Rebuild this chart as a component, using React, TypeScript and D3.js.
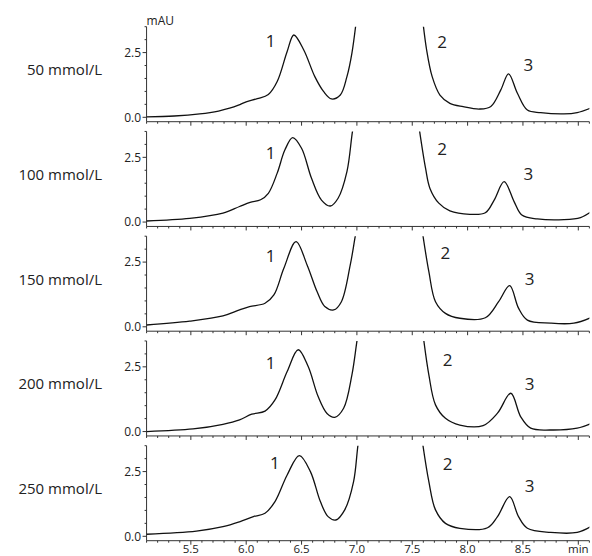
import React from "react";
import * as d3 from "d3";

const rowLabels = ["50 mmol/L", "100 mmol/L", "150 mmol/L", "200 mmol/L", "250 mmol/L"];

// retention time (min) and absorbance (mAU); null = peak 2 off scale
const time50 = [5.1, 5.35, 5.58, 5.75, 5.85, 5.93, 6.0, 6.1, 6.2, 6.28, 6.37, 6.43, 6.52, 6.62, 6.7, 6.77, 6.85, 6.91, 6.955, 7.01, 7.3, 7.58, 7.63, 7.68, 7.75, 7.84, 7.96, 8.11, 8.21, 8.3, 8.37, 8.45, 8.54, 8.66, 8.87, 8.99, 9.11];
const au50 = [0.02, 0.05, 0.13, 0.24, 0.35, 0.47, 0.6, 0.72, 0.88, 1.38, 2.54, 3.18, 2.6, 1.57, 0.99, 0.71, 0.86, 1.57, 2.48, 4.3, null, 4.3, 2.6, 1.57, 0.86, 0.54, 0.41, 0.32, 0.42, 1.06, 1.68, 0.93, 0.28, 0.18, 0.13, 0.18, 0.35];

const time100 = [5.1, 5.49, 5.79, 5.94, 6.035, 6.13, 6.2, 6.28, 6.35, 6.42, 6.5, 6.59, 6.68, 6.76, 6.83, 6.91, 6.96, 7.0, 7.3, 7.56, 7.62, 7.66, 7.74, 7.84, 8.02, 8.16, 8.24, 8.33, 8.42, 8.49, 8.63, 8.87, 9.02, 9.11];
const au100 = [0.04, 0.14, 0.34, 0.6, 0.76, 0.86, 1.11, 1.89, 2.79, 3.26, 2.85, 1.69, 0.85, 0.62, 0.92, 1.95, 3.5, 4.5, null, 3.7, 2.08, 1.3, 0.73, 0.43, 0.3, 0.36, 0.85, 1.56, 0.79, 0.27, 0.12, 0.09, 0.17, 0.38];

const time150 = [5.1, 5.49, 5.79, 5.94, 6.03, 6.17, 6.25, 6.34, 6.45, 6.55, 6.64, 6.71, 6.79, 6.86, 6.94, 6.985, 7.02, 7.3, 7.58, 7.65, 7.71, 7.8, 7.93, 8.16, 8.28, 8.38, 8.46, 8.54, 8.75, 8.96, 9.11];
const au150 = [0.07, 0.22, 0.42, 0.65, 0.78, 0.91, 1.23, 2.26, 3.29, 2.39, 1.36, 0.78, 0.65, 0.97, 2.39, 3.49, 4.3, null, 4.0, 2.13, 0.97, 0.52, 0.33, 0.35, 0.97, 1.59, 0.72, 0.26, 0.14, 0.14, 0.35];

const time200 = [5.1, 5.52, 5.79, 5.94, 6.05, 6.17, 6.26, 6.37, 6.47, 6.56, 6.65, 6.73, 6.8, 6.88, 6.955, 7.0, 7.03, 7.3, 7.59, 7.65, 7.71, 7.8, 7.93, 8.14, 8.27, 8.39, 8.48, 8.57, 8.75, 8.99, 9.12];
const au200 = [0.0, 0.1, 0.28, 0.45, 0.67, 0.79, 1.22, 2.32, 3.16, 2.51, 1.35, 0.7, 0.55, 0.9, 2.19, 3.48, 4.3, null, 4.0, 2.19, 1.03, 0.51, 0.25, 0.23, 0.71, 1.48, 0.57, 0.13, 0.06, 0.13, 0.32];

const time250 = [5.1, 5.55, 5.79, 5.94, 6.065, 6.17, 6.26, 6.37, 6.48, 6.58, 6.67, 6.74, 6.81, 6.89, 6.97, 7.01, 7.04, 7.3, 7.58, 7.65, 7.71, 7.8, 7.93, 8.18, 8.27, 8.38, 8.46, 8.54, 8.75, 8.99, 9.11];
const au250 = [0.08, 0.2, 0.37, 0.56, 0.76, 0.89, 1.34, 2.37, 3.12, 2.5, 1.34, 0.76, 0.63, 1.02, 2.11, 3.53, 4.3, null, 4.0, 2.11, 1.02, 0.5, 0.31, 0.33, 0.76, 1.53, 0.76, 0.31, 0.15, 0.15, 0.37];

const peakNames = ["1", "2", "3"];
const peakLabelTime = [
  [6.22, 7.77, 8.55],
  [6.22, 7.77, 8.55],
  [6.22, 7.8, 8.56],
  [6.22, 7.82, 8.56],
  [6.26, 7.82, 8.56],
];
const peakLabelValue = [
  [2.95, 2.91, 2.02],
  [2.69, 2.81, 1.88],
  [2.74, 2.84, 1.87],
  [2.67, 2.75, 1.84],
  [2.84, 2.78, 1.95],
];

const xTickValues = [5.5, 6.0, 6.5, 7.0, 7.5, 8.0, 8.5, 9.0];
const xTickLabels = ["5.5", "6.0", "6.5", "7.0", "7.5", "8.0", "8.5", "min"];
const yTickValues = [0, 2.5];
const yTickLabels = ["0.0", "2.5"];
const yUnit = "mAU";

const series = [
  { t: time50, v: au50 },
  { t: time100, v: au100 },
  { t: time150, v: au150 },
  { t: time200, v: au200 },
  { t: time250, v: au250 },
];

const FONT = "'Open Sans', 'Noto Sans', sans-serif";
const W = 592;
const H = 556;
const TOP0 = 26.7;
const PITCH = 104.75;
const PH = 95;
const X0 = 5.1;
const X1 = 9.1;

export default function App() {
  const x = d3.scaleLinear().domain([5.0, 9.0]).range([135.5, 578.3]);
  const minorX = d3.range(51, 92).map((i) => i / 10);
  const minorY = d3.range(0, 8).map((i) => i * 0.5);
  const axisColor = "#333";

  return (
    <svg
      width={W}
      height={H}
      style={{ position: "absolute", left: 0, top: 0, fontFamily: FONT }}
    >
      <rect width={W} height={H} fill="#fff" />
      {series.map((s, p) => {
        const top = TOP0 + p * PITCH;
        const y = d3.scaleLinear().domain([-0.17, 3.5]).range([top + PH, top]);
        const pts: [number, number | null][] = s.t.map((t, i) => [t, s.v[i]]);
        const line = d3
          .line<[number, number | null]>()
          .defined((d) => d[1] != null)
          .x((d) => x(d[0]))
          .y((d) => y(d[1] as number))
          .curve(d3.curveCatmullRom.alpha(0.5));
        const clipId = `clip${p}`;
        const xl = x(X0);
        const xr = x(X1);
        const yb = top + PH;
        return (
          <g key={p}>
            <defs>
              <clipPath id={clipId}>
                <rect x={xl} y={top} width={xr - xl} height={PH} />
              </clipPath>
            </defs>
            <text x={102} y={top + 48.3} textAnchor="end" fontSize={15} fill="#222">
              {rowLabels[p]}
            </text>
            <line x1={xl} x2={xl} y1={top} y2={yb} stroke={axisColor} strokeWidth={1} />
            {minorY.map((v) => (
              <line
                key={v}
                x1={xl - (yTickValues.includes(v) ? 4 : 2)}
                x2={xl}
                y1={y(v)}
                y2={y(v)}
                stroke={axisColor}
                strokeWidth={1}
              />
            ))}
            {yTickValues.map((v, i) => (
              <text
                key={v}
                x={xl - 5.5}
                y={y(v)}
                dy="0.36em"
                textAnchor="end"
                fontSize={12}
                fill="#222"
              >
                {yTickLabels[i]}
              </text>
            ))}
            {p === 0 && (
              <text x={xl} y={top - 2} fontSize={12} fill="#222">
                {yUnit}
              </text>
            )}
            <line x1={xl} x2={xr} y1={yb} y2={yb} stroke={axisColor} strokeWidth={1} />
            {minorX.map((t, i) => {
              const major = Math.round(t * 10) % 5 === 0;
              return (
                <line
                  key={i}
                  x1={x(t)}
                  x2={x(t)}
                  y1={yb}
                  y2={yb + (major ? 4 : 2)}
                  stroke={axisColor}
                  strokeWidth={1}
                />
              );
            })}
            {p === series.length - 1 &&
              xTickValues.map((t, i) => (
                <text
                  key={t}
                  x={x(t)}
                  y={H - 3}
                  textAnchor="middle"
                  fontSize={11.5}
                  fill="#222"
                >
                  {xTickLabels[i]}
                </text>
              ))}
            <path
              d={line(pts) || ""}
              fill="none"
              stroke="#111"
              strokeWidth={1.3}
              clipPath={`url(#${clipId})`}
            />
            {peakNames.map((n, k) => (
              <text
                key={n}
                x={x(peakLabelTime[p][k])}
                y={y(peakLabelValue[p][k])}
                dy="0.36em"
                textAnchor="middle"
                fontSize={17}
                fill="#222"
              >
                {n}
              </text>
            ))}
          </g>
        );
      })}
    </svg>
  );
}
